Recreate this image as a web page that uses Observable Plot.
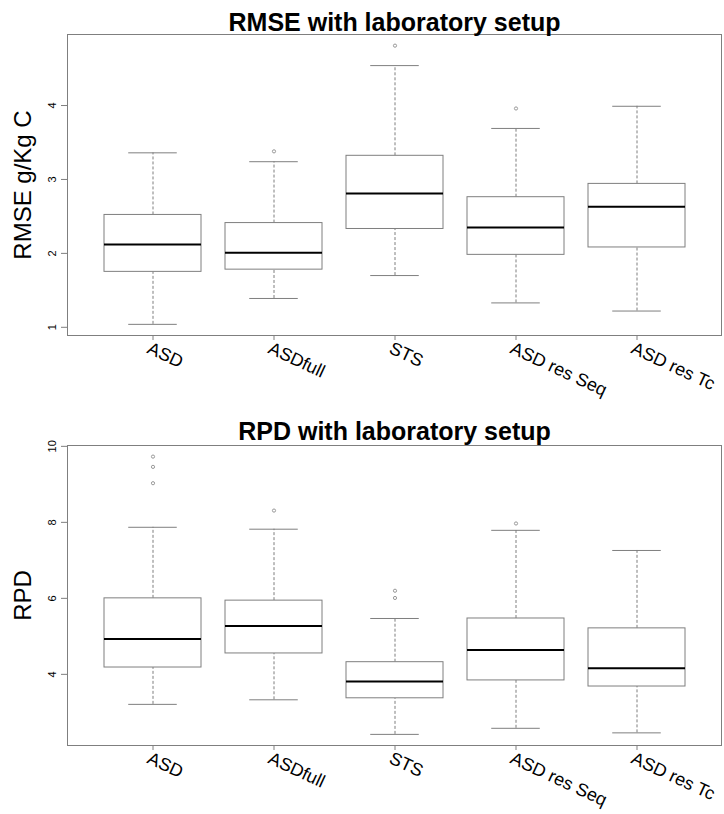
<!DOCTYPE html>
<html>
<head>
<meta charset="utf-8">
<script src="https://cdn.jsdelivr.net/npm/d3@7"></script>
<script src="https://cdn.jsdelivr.net/npm/@observablehq/plot@0.6"></script>
<style>
  body { margin: 0; background: #fff; }
  #chart svg { display: block; }
</style>
</head>
<body>
<div id="chart"></div>
<script>
// Calibration methods compared in both panels
const methods = ["ASD", "ASDfull", "STS", "ASD res Seq", "ASD res Tc"];

// RMSE (g/Kg C): whisker ends, quartiles and medians per method
const rmseLow    = [1.04, 1.39, 1.70, 1.33, 1.22];
const rmseQ1     = [1.75, 1.78, 2.33, 1.98, 2.08];
const rmseMedian = [2.12, 2.01, 2.81, 2.35, 2.63];
const rmseQ3     = [2.52, 2.41, 3.32, 2.76, 2.94];
const rmseHigh   = [3.36, 3.24, 4.54, 3.69, 3.99];
const rmseOutlierMethod = ["ASDfull", "STS", "ASD res Seq"];
const rmseOutlierValue  = [3.38, 4.81, 3.96];
const rmseTicks = [1, 2, 3, 4];

// RPD: whisker ends, quartiles and medians per method
const rpdLow    = [3.21, 3.33, 2.42, 2.58, 2.46];
const rpdQ1     = [4.18, 4.55, 3.37, 3.84, 3.68];
const rpdMedian = [4.93, 5.27, 3.81, 4.64, 4.16];
const rpdQ3     = [6.00, 5.94, 4.32, 5.47, 5.21];
const rpdHigh   = [7.87, 7.82, 5.47, 7.79, 7.26];
const rpdOutlierMethod = ["ASD", "ASD", "ASD", "ASDfull", "STS", "STS", "ASD res Seq"];
const rpdOutlierValue  = [9.73, 9.46, 9.03, 8.31, 6.20, 6.01, 7.97];
const rpdTicks = [4, 6, 8, 10];

const grey = "#7f7f7f";
const font = "'Liberation Sans', Arial, Helvetica, sans-serif";

function boxPanel({title, yLabel, low, q1, median, q3, high, outMethod, outValue, ticks,
                   height, marginTop, marginBottom, titleGap}) {
  const width = 724, marginLeft = 67, marginRight = 3;
  const stats = methods.map((m, i) => ({m, low: low[i], q1: q1[i], median: median[i], q3: q3[i], high: high[i]}));
  const outliers = outMethod.map((m, i) => ({m, v: outValue[i]}));
  // y range: data extent widened by 4% on each side
  const [lo, hi] = d3.extent([...low, ...high, ...outValue]);
  const pad = (hi - lo) * 0.04;
  // band step for 5 boxes, inner padding 0.2, outer padding 0.3
  const step = (width - marginLeft - marginRight) / (methods.length + 0.4);
  const capInset = 0.2 * step;

  return Plot.plot({
    width, height, marginLeft, marginRight, marginTop, marginBottom,
    style: {fontFamily: font, background: "white", color: "black"},
    x: {type: "band", domain: methods, paddingInner: 0.2, paddingOuter: 0.3, label: null},
    y: {domain: [lo - pad, hi + pad], label: null},
    marks: [
      Plot.frame({stroke: grey}),
      // whiskers
      Plot.ruleX(stats, {x: "m", y1: "q3", y2: "high", stroke: grey, strokeDasharray: "3,2"}),
      Plot.ruleX(stats, {x: "m", y1: "low", y2: "q1", stroke: grey, strokeDasharray: "3,2"}),
      // whisker caps
      Plot.tickY(stats, {x: "m", y: "high", stroke: grey, insetLeft: capInset, insetRight: capInset}),
      Plot.tickY(stats, {x: "m", y: "low", stroke: grey, insetLeft: capInset, insetRight: capInset}),
      // boxes and medians
      Plot.barY(stats, {x: "m", y1: "q1", y2: "q3", fill: "white", stroke: grey}),
      Plot.tickY(stats, {x: "m", y: "median", stroke: "black", strokeWidth: 2}),
      // outliers
      Plot.dot(outliers, {x: "m", y: "v", r: 1.6, stroke: "#999", strokeWidth: 1}),
      // axes
      Plot.axisY({ticks, tickSize: 6, tickFormat: () => "", stroke: grey, label: null}),
      Plot.text(ticks, {y: d => d, text: d => String(d), frameAnchor: "left", dx: -15,
                        rotate: -90, textAnchor: "middle", fontSize: 11}),
      Plot.axisX({tickSize: 5, tickFormat: () => "", stroke: grey, label: null}),
      Plot.text(methods, {x: d => d, text: d => d, frameAnchor: "bottom", dx: -7, dy: 17,
                          rotate: 25, textAnchor: "start", lineAnchor: "bottom", fontSize: 18}),
      // axis title and panel title
      Plot.text([yLabel], {frameAnchor: "left", dx: -44, rotate: -90, textAnchor: "middle", fontSize: 24}),
      Plot.text([title], {frameAnchor: "top", dy: -titleGap, lineAnchor: "bottom",
                          fontSize: 25, fontWeight: "bold"})
    ]
  });
}

const chart = document.getElementById("chart");
chart.append(boxPanel({
  title: "RMSE with laboratory setup", yLabel: "RMSE g/Kg C",
  low: rmseLow, q1: rmseQ1, median: rmseMedian, q3: rmseQ3, high: rmseHigh,
  outMethod: rmseOutlierMethod, outValue: rmseOutlierValue, ticks: rmseTicks,
  height: 400, marginTop: 34, marginBottom: 65, titleGap: 4
}));
chart.append(boxPanel({
  title: "RPD with laboratory setup", yLabel: "RPD",
  low: rpdLow, q1: rpdQ1, median: rpdMedian, q3: rpdQ3, high: rpdHigh,
  outMethod: rpdOutlierMethod, outValue: rpdOutlierValue, ticks: rpdTicks,
  height: 414, marginTop: 45, marginBottom: 69, titleGap: 6
}));
</script>
</body>
</html>
